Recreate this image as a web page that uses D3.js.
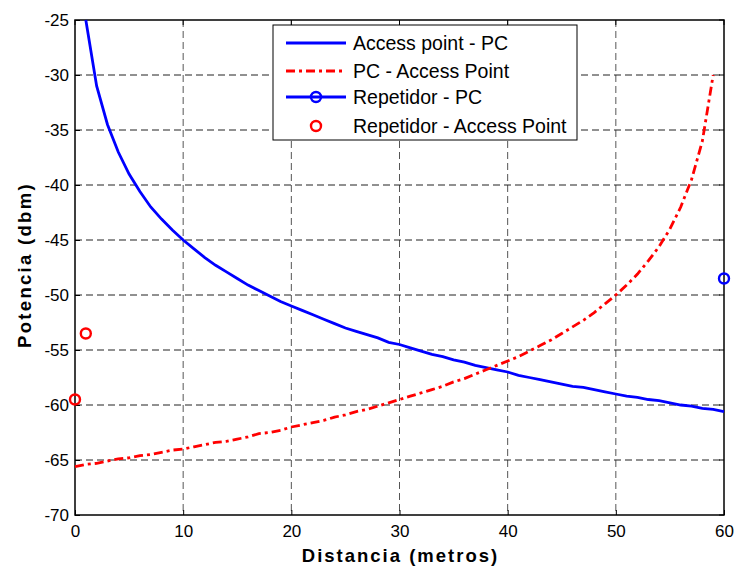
<!DOCTYPE html>
<html>
<head>
<meta charset="utf-8">
<script src="https://cdn.jsdelivr.net/npm/d3@7"></script>
<style>
  body { margin: 0; background: #fff; }
  svg { display: block; }
</style>
</head>
<body>
<svg id="chart" width="735" height="569"></svg>
<script>
// Access point - PC (x = 1..60)
const apX = d3.range(1, 61);
const apY = [-25, -31, -34.5, -37, -39, -40.6, -42, -43.1, -44.1, -45,
  -45.8, -46.6, -47.3, -47.9, -48.5, -49.1, -49.6, -50.1, -50.6, -51,
  -51.4, -51.8, -52.2, -52.6, -53, -53.3, -53.6, -53.9, -54.3, -54.5,
  -54.8, -55.1, -55.4, -55.6, -55.9, -56.1, -56.4, -56.6, -56.8, -57,
  -57.3, -57.5, -57.7, -57.9, -58.1, -58.3, -58.4, -58.6, -58.8, -59,
  -59.2, -59.3, -59.5, -59.6, -59.8, -60, -60.1, -60.3, -60.4, -60.6];

// PC - Access Point (x = 0..59)
const pcX = d3.range(0, 60);
const pcY = [-65.6, -65.4, -65.3, -65.1, -64.9, -64.8, -64.6, -64.5, -64.3, -64.1,
  -64, -63.8, -63.6, -63.4, -63.3, -63.1, -62.9, -62.6, -62.5, -62.3,
  -62, -61.8, -61.6, -61.4, -61.1, -60.9, -60.6, -60.4, -60.1, -59.8,
  -59.5, -59.2, -58.9, -58.6, -58.3, -57.9, -57.6, -57.2, -56.8, -56.4,
  -56, -55.6, -55.1, -54.6, -54.1, -53.5, -52.9, -52.3, -51.6, -50.8,
  -50, -49.1, -48.1, -46.9, -45.6, -44, -42, -39.5, -36, -30];

// Repetidor points
const repPcX = [60];
const repPcY = [-48.5];
const repApX = [0, 1];
const repApY = [-59.5, -53.5];

const xTicks = [0, 10, 20, 30, 40, 50, 60];
const yTicks = [-25, -30, -35, -40, -45, -50, -55, -60, -65, -70];

const legendLabels = ["Access point - PC", "PC - Access Point", "Repetidor - PC", "Repetidor - Access Point"];

const margin = { top: 20, right: 11, bottom: 54, left: 75 };
const width = 735, height = 569;
const innerWidth = width - margin.left - margin.right;
const innerHeight = height - margin.top - margin.bottom;
const font = "Liberation Sans, Arial, sans-serif";

const svg = d3.select("#chart");
const g = svg.append("g").attr("transform", `translate(${margin.left},${margin.top})`);

const x = d3.scaleLinear().domain([0, 60]).range([0, innerWidth]);
const y = d3.scaleLinear().domain([-70, -25]).range([innerHeight, 0]);

// grid
g.append("g").selectAll("line")
  .data(xTicks.slice(1, -1))
  .enter().append("line")
  .attr("x1", d => x(d)).attr("x2", d => x(d))
  .attr("y1", 0).attr("y2", innerHeight)
  .attr("stroke", "#555").attr("stroke-width", 1)
  .attr("stroke-dasharray", "7,4");

g.append("g").selectAll("line")
  .data(yTicks.slice(1, -1))
  .enter().append("line")
  .attr("x1", 0).attr("x2", innerWidth)
  .attr("y1", d => y(d)).attr("y2", d => y(d))
  .attr("stroke", "#222").attr("stroke-width", 1)
  .attr("stroke-dasharray", "7,4");

// axes (inward ticks)
const xAxis = g.append("g")
  .attr("transform", `translate(0,${innerHeight})`)
  .call(d3.axisBottom(x).tickValues(xTicks).tickSize(-5).tickPadding(10));
const yAxis = g.append("g")
  .call(d3.axisLeft(y).tickValues(yTicks).tickSize(-5).tickPadding(6).tickFormat(d3.format("d")));

[xAxis, yAxis].forEach(a => {
  a.attr("font-size", 17).attr("font-family", font);
  a.select(".domain").remove();
  a.selectAll("line").attr("stroke", "#000");
  a.selectAll("text").attr("fill", "#000");
});
yAxis.selectAll("text").text(d => d < 0 ? "-" + Math.abs(d) : d);

// top/right inward ticks
g.append("g").selectAll("line").data(xTicks).enter().append("line")
  .attr("x1", d => x(d)).attr("x2", d => x(d)).attr("y1", 0).attr("y2", 5).attr("stroke", "#000");
g.append("g").selectAll("line").data(yTicks).enter().append("line")
  .attr("x1", innerWidth).attr("x2", innerWidth - 5).attr("y1", d => y(d)).attr("y2", d => y(d)).attr("stroke", "#000");

// frame
g.append("rect")
  .attr("width", innerWidth).attr("height", innerHeight)
  .attr("fill", "none").attr("stroke", "#000").attr("stroke-width", 1.5);

const line = d3.line().x(d => x(d[0])).y(d => y(d[1]));

g.append("path")
  .datum(d3.zip(apX, apY))
  .attr("d", line)
  .attr("fill", "none").attr("stroke", "#0000ff").attr("stroke-width", 2.8);

g.append("path")
  .datum(d3.zip(pcX, pcY))
  .attr("d", line)
  .attr("fill", "none").attr("stroke", "#ff0000").attr("stroke-width", 2.8)
  .attr("stroke-dasharray", "9,4,3,4");

g.append("g").selectAll("circle")
  .data(d3.zip(repPcX, repPcY)).enter().append("circle")
  .attr("cx", d => x(d[0])).attr("cy", d => y(d[1])).attr("r", 5)
  .attr("fill", "none").attr("stroke", "#0000ff").attr("stroke-width", 2.4);

g.append("g").selectAll("circle")
  .data(d3.zip(repApX, repApY)).enter().append("circle")
  .attr("cx", d => x(d[0])).attr("cy", d => y(d[1])).attr("r", 5)
  .attr("fill", "none").attr("stroke", "#ff0000").attr("stroke-width", 2.4);

// legend
const lg = svg.append("g").attr("transform", "translate(273,25)");
lg.append("rect").attr("width", 304).attr("height", 115)
  .attr("fill", "#fff").attr("stroke", "#000").attr("stroke-width", 1);
const rowY = [18, 46, 72, 101];
const styles = [
  { c: "#0000ff", dash: null, line: true, marker: false },
  { c: "#ff0000", dash: "9,4,3,4", line: true, marker: false },
  { c: "#0000ff", dash: null, line: true, marker: true },
  { c: "#ff0000", dash: null, line: false, marker: true }
];
legendLabels.forEach((lab, i) => {
  const s = styles[i];
  if (s.line) {
    lg.append("line").attr("x1", 13).attr("x2", 73).attr("y1", rowY[i]).attr("y2", rowY[i])
      .attr("stroke", s.c).attr("stroke-width", 2.8).attr("stroke-dasharray", s.dash);
  }
  if (s.marker) {
    lg.append("circle").attr("cx", 43).attr("cy", rowY[i]).attr("r", 5)
      .attr("fill", "none").attr("stroke", s.c).attr("stroke-width", 2.4);
  }
  lg.append("text").attr("x", 80).attr("y", rowY[i]).attr("dy", "0.35em")
    .style("font-family", font).style("font-size", "19.5px").text(lab);
});

// axis labels
svg.append("text")
  .attr("x", margin.left + innerWidth / 2 + 1).attr("y", 562)
  .attr("text-anchor", "middle")
  .style("font-family", font).style("font-size", "18.5px").style("font-weight", "bold")
  .style("letter-spacing", "2px")
  .text("Distancia (metros)");

svg.append("text")
  .attr("transform", "translate(31,265) rotate(-90)")
  .attr("text-anchor", "middle")
  .style("font-family", font).style("font-size", "18.5px").style("font-weight", "bold")
  .style("letter-spacing", "2.3px")
  .text("Potencia (dbm)");
</script>
</body>
</html>
